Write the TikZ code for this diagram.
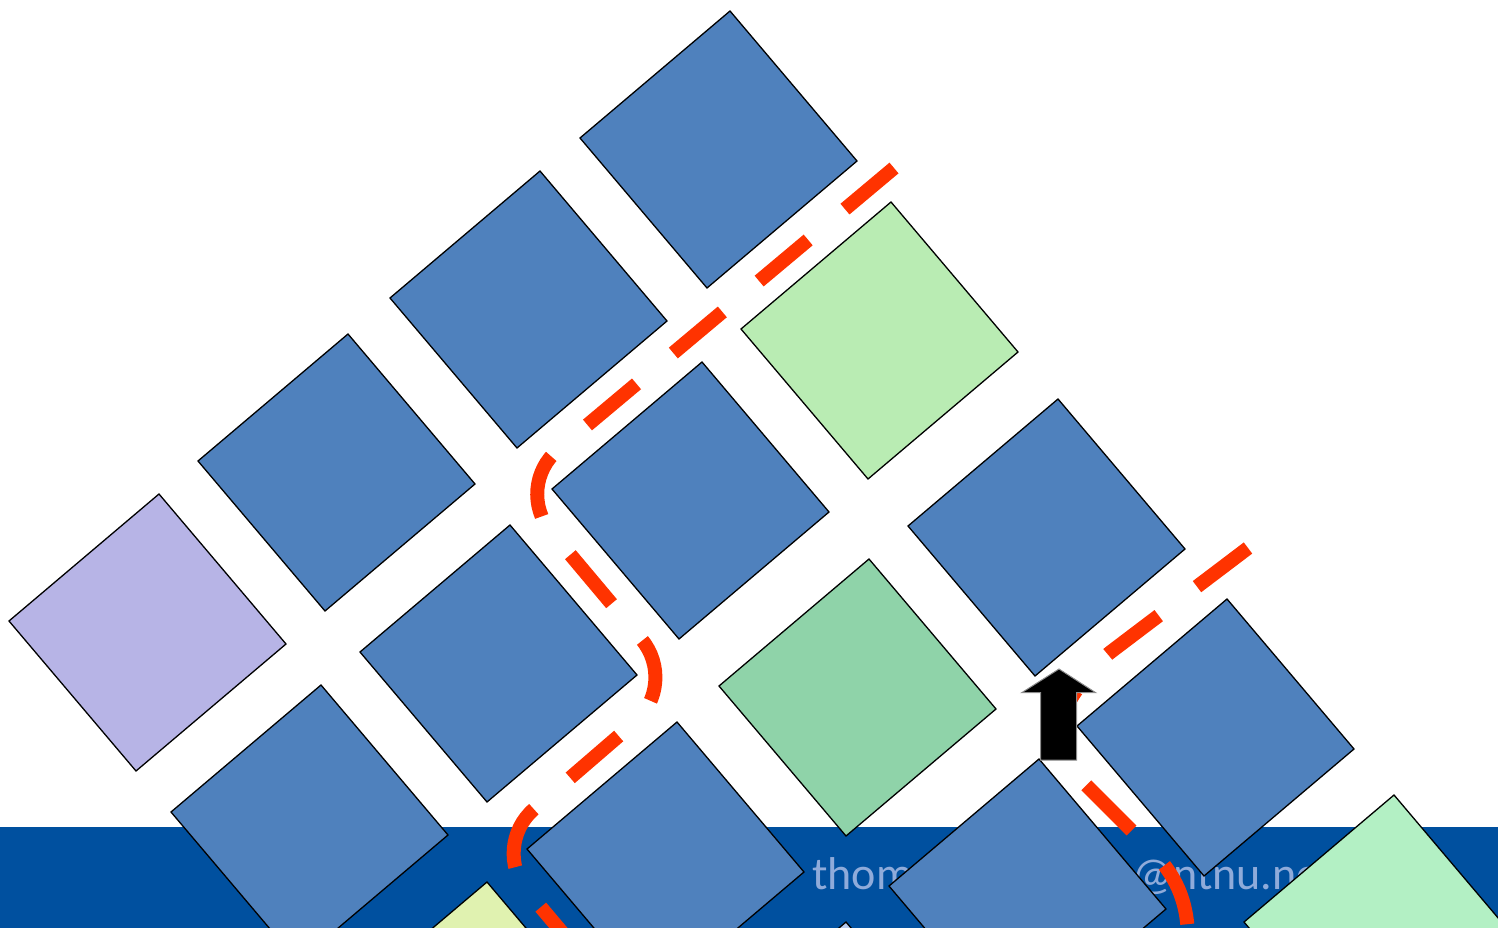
\documentclass[tikz,border=0pt]{standalone}
\usepackage{fontspec}
\newfontfamily\calib{Carlito}
\definecolor{tileblue}{RGB}{79,129,189}
\definecolor{bandblue}{RGB}{0,80,159}
\definecolor{lightgreen}{RGB}{185,236,179}
\definecolor{midgreen}{RGB}{143,211,169}
\definecolor{lavender}{RGB}{183,180,230}
\definecolor{mintgreen}{RGB}{179,240,196}
\definecolor{yellowgreen}{RGB}{224,242,176}
\definecolor{paleblue}{RGB}{182,202,238}
\definecolor{mailtext}{RGB}{143,171,218}
\definecolor{dashred}{RGB}{255,51,0}
\tikzset{
  tile/.style={draw=black, line width=1.3pt, line join=miter},
  route/.style={draw=dashred, line width=14pt, dash pattern=on 64pt off 48pt, line cap=butt, rounded corners=58pt},
  mail/.style={anchor=base west, text=mailtext, inner sep=0pt, font=\calib\fontsize{46}{50}\selectfont},
  blockarrow/.style={fill=black, draw=black!45, line width=1pt, line join=miter}
}
\newcommand\drawtile[2]{\path[tile, fill=#1] #2 -- ++(127,150) -- ++(-150,127) -- ++(-127,-150) -- cycle;}
\begin{document}
\begin{tikzpicture}[x=1pt, y=-1pt]
\useasboundingbox (0,0) rectangle (1498,928);
% bottom band and address
\fill[bandblue] (0,827) rectangle (1498,928);
\node[mail] (mailA) at (812,889) {thom};
\node[mail] (mailB) at (1132,889) {@ntnu.no};
% tiles
\drawtile{tileblue}{(730,11)}
\drawtile{tileblue}{(540,171)}
\drawtile{tileblue}{(348,334)}
\drawtile{lavender}{(159,494)}
\drawtile{lightgreen}{(891,202)}
\drawtile{tileblue}{(702,362)}
\drawtile{tileblue}{(510,525)}
\drawtile{tileblue}{(321,685)}
\drawtile{midgreen}{(869,559)}
\drawtile{tileblue}{(1058,399)}
\drawtile{tileblue}{(1227,599)}
\drawtile{tileblue}{(677,722)}
\drawtile{tileblue}{(1039,759)}
\drawtile{mintgreen}{(1394,795)}
\drawtile{yellowgreen}{(487,882)}
\drawtile{paleblue}{(846,922)}
% dashed routes
\path[route] (894,168) -- (513.5,487) -- (679,684) -- (490,847) -- (604,982);
\path[route, rounded corners=0pt] (1248,548) -- (1112,651) .. controls (1080,675) and (1040,739) .. (1060,759) -- (1150,849) .. controls (1175,874) and (1188,900) .. (1188,940);
% block arrow
\path[blockarrow] (1040.7,760) -- (1040.7,692.7) -- (1021.7,692.7) -- (1059,669) -- (1095.7,692.7) -- (1076.7,692.7) -- (1076.7,760) -- cycle;
\end{tikzpicture}
\end{document}
